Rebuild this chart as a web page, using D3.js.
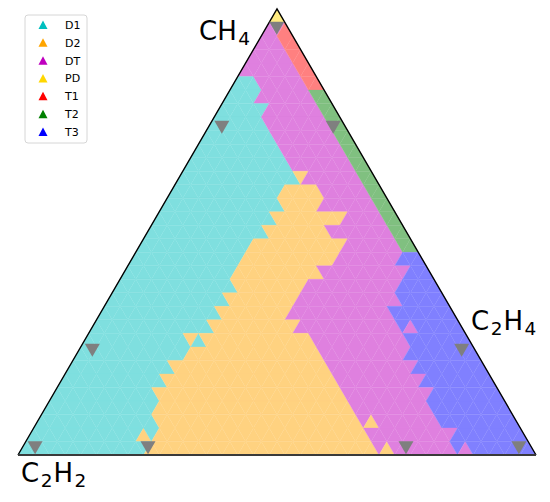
<!DOCTYPE html>
<html><head><meta charset="utf-8">
<script src="https://cdn.jsdelivr.net/npm/d3@7"></script>
<style>html,body{margin:0;padding:0;background:#fff}svg{display:block}</style>
</head><body>
<script>
// Fault classes (Duval triangle zones)
const classes = ["D1", "D2", "DT", "PD", "T1", "T2", "T3"];
const classCodes = ["A", "B", "D", "P", "R", "G", "T"];
const fillColors = ["#7fdfdf", "#ffd280", "#df80df", "#ffeb80", "#ff8080", "#80c080", "#8080ff"];
const legendColors = ["#00bfbf", "#ffa500", "#bf00bf", "#ffd700", "#ff0000", "#008000", "#0000ff"];

// Classified triangular grid, one run-length row per band (top -> bottom)
const gridRows = [
  "1P",
  "2D 1R",
  "3D 2R",
  "5D 2R",
  "7D 2R",
  "3A 6D 2R",
  "4A 7D 2G",
  "6A 7D 2G",
  "7A 8D 2G",
  "9A 8D 2G",
  "11A 8D 2G",
  "13A 8D 2G",
  "15A 1B 7D 2G",
  "14A 5B 6D 2G",
  "15A 5B 7D 2G",
  "15A 9B 5D 2G",
  "15A 8B 8D 2G",
  "14A 12B 7D 2G",
  "14A 12B 8D 3T",
  "14A 11B 11D 3T",
  "15A 9B 12D 5T",
  "15A 9B 13D 6T",
  "15A 9B 13D 8T",
  "15A 11B 13D 1T 1D 6T",
  "13A 1B 1A 14B 12D 8T",
  "14A 17B 11D 9T",
  "13A 20B 11D 9T",
  "13A 22B 11D 9T",
  "13A 24B 11D 9T",
  "14A 25B 10D 10T",
  "15A 26B 1D 1B 8D 10T",
  "14A 1B 1A 27B 11D 9T",
  "16A 29B 1D 1B 8D 1T 1D 8T"
];

// Sample points (fractions): CH4 and C2H4
const markerCH4  = [0.957, 0.735, 0.735, 0.235, 0.235, 0.016, 0.016, 0.016, 0.016];
const markerC2H4 = [0.021, 0.026, 0.241, 0.026, 0.739, 0.025, 0.243, 0.741, 0.959];

const W = 550, H = 502;
const svg = d3.select("body").append("svg").attr("width", W).attr("height", H);

const N = gridRows.length;
// x scale: C2H4 + CH4/2 ; y scale: CH4
const xs = d3.scaleLinear().domain([0, 1]).range([18, 536]);
const ys = d3.scaleLinear().domain([0, 1]).range([455, 9]);
const pt = (ch4, c2h4) => [xs(c2h4 + ch4 / 2), ys(ch4)];
const lat = (i, j) => pt(1 - i / N, j / N);

function expand(row, len) {
  const out = [];
  row.trim().split(/\s+/).forEach(tok => {
    const n = parseInt(tok, 10), c = tok.replace(/[0-9]/g, "");
    for (let q = 0; q < n; q++) out.push(c);
  });
  while (out.length < len) out.push(out[out.length - 1]);
  return out.slice(0, len);
}

const cells = [];
gridRows.forEach((row, k) => {
  const codes = expand(row, 2 * k + 1);
  codes.forEach((c, idx) => {
    let p;
    if (idx % 2 === 0) { const j = idx / 2; p = [lat(k, j), lat(k + 1, j), lat(k + 1, j + 1)]; }
    else { const j = (idx - 1) / 2; p = [lat(k, j), lat(k, j + 1), lat(k + 1, j + 1)]; }
    cells.push({ code: c, p });
  });
});

const colorOf = d3.scaleOrdinal().domain(classCodes).range(fillColors);

svg.append("g").selectAll("path").data(cells).join("path")
  .attr("d", d => "M" + d.p.map(q => q.join(",")).join("L") + "Z")
  .attr("fill", d => colorOf(d.code))
  .attr("stroke", d => colorOf(d.code))
  .attr("stroke-width", 0.3);

// outline
const A = pt(1, 0), L = pt(0, 0), R = pt(0, 1);
svg.append("path").attr("d", `M${L}L${A}L${R}`).attr("fill", "none")
  .attr("stroke", "#000").attr("stroke-width", 1.4).attr("stroke-linejoin", "miter");
svg.append("line").attr("x1", L[0]).attr("x2", R[0]).attr("y1", L[1]).attr("y2", R[1])
  .attr("stroke", "#3a3a3a").attr("stroke-width", 2);

// markers
const mk = markerCH4.map((a, i) => pt(a, markerC2H4[i]));
svg.append("g").selectAll("path").data(mk).join("path")
  .attr("d", d => `M${d[0] - 7.5},${d[1] - 6.5}L${d[0] + 7.5},${d[1] - 6.5}L${d[0]},${d[1] + 6.5}Z`)
  .attr("fill", "#7f7f7f");

// axis labels with subscripts
const labelParts = [
  { x: 198, y: 40, parts: [["CH", 0], ["4", 1]] },
  { x: 20, y: 482, parts: [["C", 0], ["2", 1], ["H", 0], ["2", 1]] },
  { x: 470, y: 330, parts: [["C", 0], ["2", 1], ["H", 0], ["4", 1]] }
];
labelParts.forEach(l => {
  const t = svg.append("text").attr("x", l.x).attr("y", l.y)
    .attr("font-family", "DejaVu Sans").attr("font-size", 26).attr("fill", "#000");
  let sub = 0;
  l.parts.forEach(([s, isSub]) => {
    const dy = isSub ? (sub ? 0 : 5) : (sub ? -5 : 0);
    sub = isSub;
    t.append("tspan").attr("dy", dy).attr("dx", isSub ? 1.5 : 1)
      .attr("font-size", isSub ? 18.5 : 26).text(s);
  });
});

// legend
const lg = svg.append("g");
lg.append("rect").attr("x", 25).attr("y", 15).attr("width", 62).attr("height", 128)
  .attr("rx", 3).attr("fill", "#fff").attr("stroke", "#d6d6d6").attr("stroke-width", 1);
const ly = d3.scalePoint().domain(classes).range([25, 132]);
classes.forEach((c, i) => {
  const cy = ly(c);
  lg.append("path").attr("d", `M43,${cy - 4.5}L47.5,${cy + 4}L38.5,${cy + 4}Z`).attr("fill", legendColors[i]);
  lg.append("text").attr("x", 65).attr("y", cy).attr("dy", "0.36em")
    .attr("font-family", "DejaVu Sans").attr("font-size", 11).attr("fill", "#000").text(c);
});
</script>
</body></html>
